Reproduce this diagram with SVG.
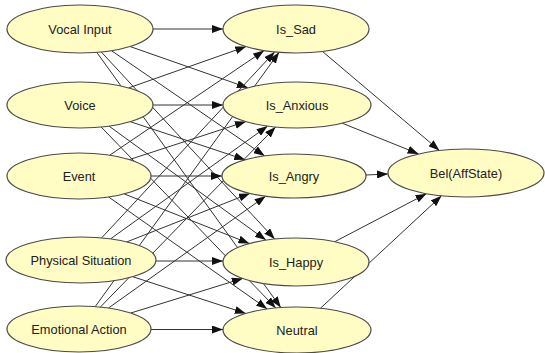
<svg xmlns="http://www.w3.org/2000/svg" width="545" height="353" viewBox="0 0 545 353">
<style>
.n ellipse{fill:#FFFCC4;stroke:#4a4a4a;stroke-width:1.2}
.n text{font-family:"Liberation Sans",Arial,sans-serif;font-size:12.8px;fill:#222;text-anchor:middle;dominant-baseline:central}
.e line{stroke:#333;stroke-width:1;marker-end:url(#ah)}
</style>
<defs>
<marker id="ah" viewBox="0 0 11 8" refX="11" refY="4" markerWidth="11" markerHeight="8" markerUnits="userSpaceOnUse" orient="auto">
<path d="M0,0 L11,4 L0,8 z" fill="#111"/>
</marker>
</defs>
<rect width="545" height="353" fill="#fff"/>
<g id="connectors" class="e">
<line x1="153" y1="29" x2="223" y2="29"/>
<line x1="130" y1="46.5" x2="247.9" y2="87.8"/>
<line x1="111.5" y1="50.7" x2="264.7" y2="155.9"/>
<line x1="101.3" y1="52" x2="274.7" y2="239"/>
<line x1="96.8" y1="52.4" x2="280.8" y2="307.6"/>
<line x1="128.7" y1="87.9" x2="246.2" y2="46.5"/>
<line x1="153" y1="105" x2="223" y2="105"/>
<line x1="130.3" y1="121.7" x2="245.2" y2="159.8"/>
<line x1="109" y1="126.1" x2="265.9" y2="240.1"/>
<line x1="101.2" y1="127" x2="275.8" y2="308"/>
<line x1="109.7" y1="155.2" x2="264.1" y2="50.6"/>
<line x1="129.4" y1="159.6" x2="245.9" y2="121.6"/>
<line x1="151" y1="176" x2="222" y2="176"/>
<line x1="124.2" y1="193.9" x2="249.4" y2="243.5"/>
<line x1="108.7" y1="197" x2="267.2" y2="308.9"/>
<line x1="101.6" y1="237.9" x2="274.7" y2="51.9"/>
<line x1="110.5" y1="238.9" x2="267.6" y2="126.1"/>
<line x1="127" y1="241.8" x2="249.9" y2="193.4"/>
<line x1="156" y1="261" x2="223" y2="261"/>
<line x1="132.6" y1="276.7" x2="245.8" y2="313.4"/>
<line x1="95.2" y1="306.6" x2="279.1" y2="52.3"/>
<line x1="100.4" y1="307" x2="275.6" y2="127"/>
<line x1="108.5" y1="308" x2="265.6" y2="196.2"/>
<line x1="130.8" y1="313" x2="242.8" y2="278.4"/>
<line x1="151" y1="329.5" x2="223" y2="329.5"/>
<line x1="322.4" y1="51.4" x2="439.4" y2="150.4"/>
<line x1="342.2" y1="123.2" x2="418.6" y2="153.9"/>
<line x1="366" y1="175" x2="388" y2="174"/>
<line x1="334.8" y1="241.7" x2="426.5" y2="193.7"/>
<line x1="320.5" y1="308.2" x2="441.5" y2="195.8"/>
</g>
<g id="vocal_input" class="n"><ellipse cx="80" cy="29" rx="73" ry="24"/><text x="80" y="29">Vocal Input</text></g>
<g id="voice" class="n"><ellipse cx="80" cy="105" rx="73" ry="23"/><text x="80" y="105">Voice</text></g>
<g id="event" class="n"><ellipse cx="79" cy="176" rx="72" ry="23"/><text x="79" y="176">Event</text></g>
<g id="physical_situation" class="n"><ellipse cx="81" cy="260" rx="75" ry="23"/><text x="81" y="260">Physical Situation</text></g>
<g id="emotional_action" class="n"><ellipse cx="79" cy="329" rx="72" ry="23"/><text x="79" y="329">Emotional Action</text></g>
<g id="is_sad" class="n"><ellipse cx="296" cy="29" rx="73" ry="24"/><text x="296" y="29">Is_Sad</text></g>
<g id="is_anxious" class="n"><ellipse cx="297" cy="105" rx="74" ry="23"/><text x="297" y="105">Is_Anxious</text></g>
<g id="is_angry" class="n"><ellipse cx="294" cy="176" rx="72" ry="22"/><text x="294" y="176">Is_Angry</text></g>
<g id="is_happy" class="n"><ellipse cx="296" cy="262" rx="73" ry="24"/><text x="296" y="262">Is_Happy</text></g>
<g id="neutral" class="n"><ellipse cx="297" cy="330" rx="74" ry="23"/><text x="297" y="330">Neutral</text></g>
<g id="bel_affstate" class="n"><ellipse cx="466" cy="173" rx="78" ry="24"/><text x="466" y="173">Bel(AffState)</text></g>
</svg>
